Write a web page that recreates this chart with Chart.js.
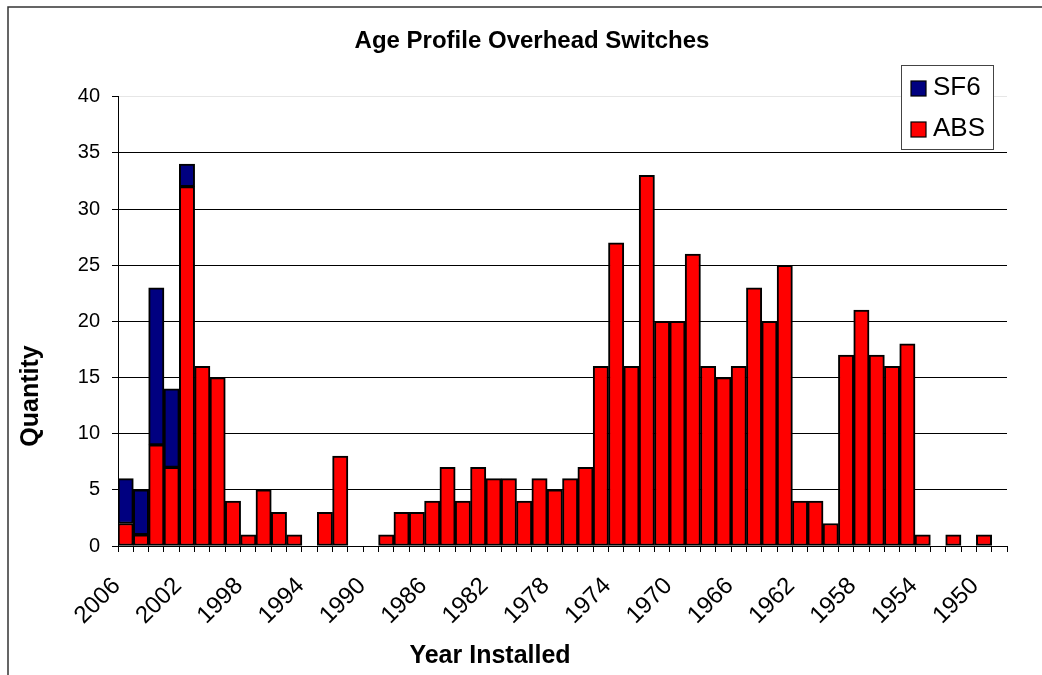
<!DOCTYPE html>
<html>
<head>
<meta charset="utf-8">
<title>Age Profile Overhead Switches</title>
<script src="https://cdn.jsdelivr.net/npm/chart.js@4.4.1/dist/chart.umd.min.js"></script>
<style>
  body { margin: 0; background: #fff; }
  canvas { display: block; }
</style>
</head>
<body>
<canvas id="ageChart" width="1042" height="675"></canvas>
<script>
// year installed, newest first
var years = ['2006','2005','2004','2003','2002','2001','2000','1999','1998','1997',
             '1996','1995','1994','1993','1992','1991','1990','1989','1988','1987',
             '1986','1985','1984','1983','1982','1981','1980','1979','1978','1977',
             '1976','1975','1974','1973','1972','1971','1970','1969','1968','1967',
             '1966','1965','1964','1963','1962','1961','1960','1959','1958','1957',
             '1956','1955','1954','1953','1952','1951','1950','1949'];

var sf6 = [4,4,14,7,2,0,0,0,0,0,
           0,0,0,0,0,0,0,0,0,0,
           0,0,0,0,0,0,0,0,0,0,
           0,0,0,0,0,0,0,0,0,0,
           0,0,0,0,0,0,0,0,0,0,
           0,0,0,0,0,0,0,0];

var abs = [2,1,9,7,32,16,15,4,1,5,
           3,1,0,3,8,0,0,1,3,3,
           4,7,4,7,6,6,4,6,5,6,
           7,16,27,16,33,20,20,26,16,15,
           16,23,20,25,4,4,2,17,21,17,
           16,18,1,0,1,0,1,0];

// only every 4th year is labelled on the axis
var yearTicks = ['2006','2002','1998','1994','1990','1986','1982','1978',
                 '1974','1970','1966','1962','1958','1954','1950'];

var FONT = '"Liberation Sans", Arial, sans-serif';

/* frame, axis titles and the boxed legend */
var extras = {
  id: 'extras',
  beforeDraw: function (chart) {
    var ctx = chart.ctx;
    ctx.save();
    ctx.strokeStyle = '#333';
    ctx.lineWidth = 1.5;
    ctx.beginPath();
    ctx.moveTo(8, 675);
    ctx.lineTo(8, 7);
    ctx.lineTo(1042, 7);
    ctx.stroke();
    ctx.restore();
  },
  afterDraw: function (chart) {
    var ctx = chart.ctx;
    ctx.save();
    ctx.fillStyle = '#000';
    ctx.font = 'bold 25px ' + FONT;
    ctx.textAlign = 'center';
    ctx.textBaseline = 'middle';
    ctx.fillText('Year Installed', 490, 656);

    ctx.translate(31, 396);
    ctx.rotate(-Math.PI / 2);
    ctx.fillText('Quantity', 0, 0);
    ctx.restore();

    // legend
    ctx.save();
    ctx.fillStyle = '#fff';
    ctx.fillRect(901, 65, 92, 84);
    ctx.strokeStyle = '#444';
    ctx.lineWidth = 1;
    ctx.strokeRect(901.5, 65.5, 92, 84);
    var items = [['SF6', '#000080', 81], ['ABS', '#ff0000', 122]];
    ctx.font = '26px ' + FONT;
    ctx.textAlign = 'left';
    ctx.textBaseline = 'alphabetic';
    items.forEach(function (it) {
      ctx.fillStyle = it[1];
      ctx.fillRect(911, it[2], 15, 15);
      ctx.strokeStyle = '#000';
      ctx.lineWidth = 1.2;
      ctx.strokeRect(911, it[2], 15, 15);
      ctx.fillStyle = '#000';
      ctx.fillText(it[0], 933, it[2] + 14);
    });
    ctx.restore();
  }
};

var ageCtx = document.getElementById('ageChart').getContext('2d');
var ageChart = new Chart(ageCtx, {
  type: 'bar',
  data: {
    labels: years,
    datasets: [{
      label: 'ABS',
      data: abs,
      backgroundColor: '#ff0000',
      borderColor: '#000',
      borderWidth: 2,
      borderSkipped: false,
      stack: 's'
    }, {
      label: 'SF6',
      data: sf6,
      backgroundColor: '#000080',
      borderColor: '#000',
      borderWidth: 2,
      borderSkipped: false,
      stack: 's'
    }]
  },
  options: {
    responsive: false,
    animation: false,
    devicePixelRatio: 1,
    layout: { padding: { left: 57, right: 35, top: 0, bottom: 0 } },
    datasets: { bar: { barPercentage: 1, categoryPercentage: 1 } },
    plugins: {
      legend: { display: false },
      tooltip: { enabled: false },
      title: {
        display: true,
        text: 'Age Profile Overhead Switches',
        color: '#000',
        font: { family: FONT, size: 24, weight: 'bold' },
        padding: { top: 27, bottom: 41 }
      }
    },
    scales: {
      x: {
        stacked: true,
        afterFit: function (s) { s.height = 129; },
        grid: {
          drawOnChartArea: false,
          drawTicks: true,
          tickLength: 6,
          color: '#000'
        },
        border: { color: '#000', width: 1 },
        ticks: {
          autoSkip: false,
          minRotation: 45,
          maxRotation: 45,
          padding: 20,
          labelOffset: -9,
          color: '#000',
          font: { family: FONT, size: 24 },
          callback: function (v, i) {
            var y = years[i];
            return yearTicks.indexOf(y) >= 0 ? y : '';
          }
        }
      },
      y: {
        stacked: true,
        min: 0,
        max: 40,
        afterFit: function (s) { s.width = 61; },
        grid: {
          color: function (c) { return c.tick && c.tick.value === 40 ? '#e6e6e6' : '#000'; },
          tickColor: '#000',
          tickLength: 6,
          lineWidth: 1
        },
        border: { color: '#000', width: 1 },
        ticks: {
          stepSize: 5,
          padding: 12,
          color: '#000',
          font: { family: FONT, size: 20 }
        }
      }
    }
  },
  plugins: [extras]
});
</script>
</body>
</html>
